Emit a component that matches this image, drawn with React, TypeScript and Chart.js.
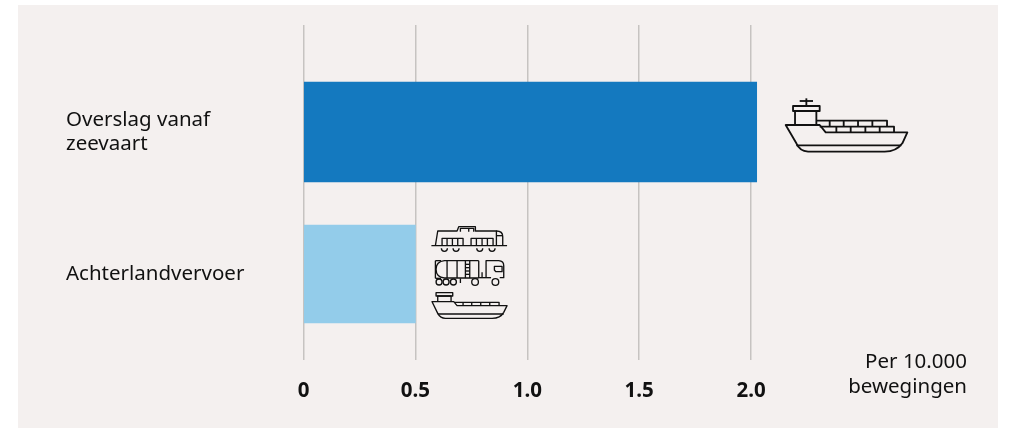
import React, { useEffect, useRef } from "react";
import { Chart, registerables } from "chart.js";

Chart.register(...registerables);

const categories: string[][] = [["Overslag vanaf", "zeevaart"], ["Achterlandvervoer"]];
const seaValues = [2.025, null];
const inlandValues = [null, 0.5];
const xTicks = [0, 0.5, 1.0, 1.5, 2.0];
const unitLines = ["Per 10.000", "bewegingen"];

const INK = "#111111";
const FONT = '"Noto Sans", sans-serif';

function poly(c: CanvasRenderingContext2D, pts: number[][], close = false) {
  c.beginPath();
  pts.forEach((p, i) => (i ? c.lineTo(p[0], p[1]) : c.moveTo(p[0], p[1])));
  if (close) c.closePath();
  c.stroke();
}
function circle(c: CanvasRenderingContext2D, x: number, y: number, r: number) {
  c.beginPath();
  c.arc(x, y, r, 0, Math.PI * 2);
  c.stroke();
}

// icon drawings: each in its own local units, thirds of a pixel
function bigShip(c: CanvasRenderingContext2D) {
  c.lineWidth = 5.5;
  c.beginPath();
  c.moveTo(48, 120);
  c.lineTo(150, 120);
  c.lineTo(168, 142);
  c.lineTo(413, 142);
  c.lineTo(398, 175);
  c.quadraticCurveTo(380, 200, 345, 200);
  c.lineTo(115, 200);
  c.quadraticCurveTo(90, 198, 80, 175);
  c.closePath();
  c.stroke();
  poly(c, [[80, 181], [395, 181]]);
  poly(c, [[76, 120], [76, 78], [140, 78], [140, 120]]);
  poly(c, [[70, 78], [70, 63], [150, 63], [150, 78]], true);
  poly(c, [[110, 40], [110, 63]]);
  poly(c, [[90, 48], [130, 48]]);
  poly(c, [[142, 107], [352, 107], [352, 125]]);
  poly(c, [[150, 125], [373, 125], [373, 142]]);
  [180, 222, 265, 308].forEach((x) => poly(c, [[x, 107], [x, 125]]));
  [200, 243, 287, 330].forEach((x) => poly(c, [[x, 125], [x, 142]]));
}
function train(c: CanvasRenderingContext2D) {
  c.lineWidth = 4;
  poly(c, [[33, 92], [260, 92]]);
  poly(c, [[45, 92], [52, 48], [110, 48], [115, 35], [165, 35], [165, 48], [230, 48]]);
  c.beginPath();
  c.moveTo(228, 48);
  c.quadraticCurveTo(247, 48, 247, 65);
  c.lineTo(247, 92);
  c.stroke();
  poly(c, [[228, 48], [228, 92]]);
  poly(c, [[228, 62], [247, 62]]);
  poly(c, [[65, 92], [65, 70], [128, 70], [128, 92]]);
  poly(c, [[152, 92], [152, 70], [218, 70], [218, 92]]);
  [80, 96, 112, 168, 185, 201].forEach((x) => poly(c, [[x, 70], [x, 92]]));
  poly(c, [[120, 50], [120, 40], [160, 40], [160, 50]]);
  poly(c, [[145, 40], [145, 50]]);
  [72, 107, 178, 215].forEach((x) => {
    c.beginPath();
    c.arc(x, 100, 9, 0, Math.PI);
    c.stroke();
  });
}
function truck(c: CanvasRenderingContext2D) {
  c.lineWidth = 4;
  c.beginPath();
  c.moveTo(175, 137);
  c.lineTo(72, 137);
  c.quadraticCurveTo(47, 140, 47, 163);
  c.quadraticCurveTo(47, 187, 72, 189);
  c.lineTo(175, 189);
  c.stroke();
  poly(c, [[45, 137], [45, 190]]);
  poly(c, [[45, 137], [62, 137]]);
  poly(c, [[45, 190], [62, 190]]);
  poly(c, [[175, 137], [175, 189]]);
  [80, 110].forEach((x) => poly(c, [[x, 137], [x, 189]]));
  poly(c, [[135, 137], [135, 189]]);
  poly(c, [[148, 137], [148, 189]]);
  [148, 158, 168, 178].forEach((y) => poly(c, [[135, y], [148, y]]));
  c.beginPath();
  c.moveTo(197, 188);
  c.lineTo(197, 137);
  c.lineTo(235, 137);
  c.quadraticCurveTo(250, 138, 250, 152);
  c.lineTo(250, 188);
  c.lineTo(238, 188);
  c.stroke();
  poly(c, [[176, 188], [212, 188]]);
  poly(c, [[222, 154], [245, 154], [245, 170], [226, 170], [222, 165]], true);
  poly(c, [[185, 172], [185, 188]]);
  poly(c, [[120, 190], [120, 204]]);
  [[56, 9], [77, 9], [99, 9], [164, 10], [225, 10]].forEach(([x, r]) => circle(c, x, 201, r));
}
function smallShip(c: CanvasRenderingContext2D) {
  c.lineWidth = 4;
  c.beginPath();
  c.moveTo(35, 260);
  c.lineTo(100, 260);
  c.lineTo(110, 272);
  c.lineTo(260, 272);
  c.lineTo(250, 292);
  c.quadraticCurveTo(240, 310, 215, 310);
  c.lineTo(75, 310);
  c.quadraticCurveTo(60, 310, 52, 295);
  c.closePath();
  c.stroke();
  poly(c, [[52, 297], [250, 297]]);
  poly(c, [[52, 260], [52, 243], [92, 243], [92, 260]]);
  poly(c, [[47, 243], [47, 233], [97, 233], [97, 243]], true);
  poly(c, [[102, 262], [236, 262], [236, 272]]);
  [128, 154, 181, 208].forEach((x) => poly(c, [[x, 262], [x, 272]]));
}

const iconPlugin = {
  id: "icons",
  afterDatasetsDraw(chart: any) {
    const c: CanvasRenderingContext2D = chart.ctx;
    const x = chart.scales.x;
    const y = chart.scales.y;
    c.save();
    c.strokeStyle = INK;
    c.lineJoin = "round";
    c.lineCap = "butt";

    const seaEnd = x.getPixelForValue(seaValues[0] as number);
    const seaMid = y.getPixelForValue(0);
    c.save();
    c.translate(seaEnd + 13, seaMid - 47);
    c.scale(1 / 3, 1 / 3);
    bigShip(c);
    c.restore();

    const inlandEnd = x.getPixelForValue(inlandValues[1] as number);
    const inlandMid = y.getPixelForValue(1);
    c.save();
    c.translate(inlandEnd + 5, inlandMid - 59);
    c.scale(1 / 3, 1 / 3);
    train(c);
    truck(c);
    smallShip(c);
    c.restore();

    // unit note, right-aligned below the plot
    c.fillStyle = INK;
    c.font = `20.5px ${FONT}`;
    c.textAlign = "right";
    c.textBaseline = "middle";
    unitLines.forEach((t, i) => c.fillText(t, chart.width - 48, 362.5 + i * 25));
    c.restore();
  },
};

export default function App() {
  const ref = useRef<HTMLCanvasElement>(null);
  useEffect(() => {
    const chart = new Chart(ref.current!, {
      type: "bar",
      plugins: [iconPlugin],
      data: {
        labels: [0, 1],
        datasets: [
          { label: "Overslag vanaf zeevaart", data: seaValues as any, backgroundColor: "#1479BF", barThickness: 100 },
          { label: "Achterlandvervoer", data: inlandValues as any, backgroundColor: "#93CCEA", barThickness: 98 },
        ],
      },
      options: {
        indexAxis: "y",
        responsive: false,
        animation: false,
        layout: { padding: { left: 66, right: 152, top: 25, bottom: 5.4 } },
        plugins: { legend: { display: false }, tooltip: { enabled: false } },
        scales: {
          x: {
            type: "linear",
            min: 0,
            max: 2.5,
            stacked: true,
            afterBuildTicks: (s: any) => {
              s.ticks = xTicks.map((value) => ({ value }));
            },
            grid: { color: "#C6C3C1", lineWidth: 1.5, drawTicks: false },
            border: { display: false },
            ticks: {
              autoSkip: false,
              maxRotation: 0,
              padding: 19,
              color: INK,
              font: { family: FONT, size: 20.5, weight: "bold" },
              callback: (v: any) => (v === 0 ? "0" : Number(v).toFixed(1)),
            },
          },
          y: {
            type: "linear",
            stacked: true,
            reverse: true,
            offset: false,
            min: -0.7535,
            max: 1.6056,
            afterBuildTicks: (s: any) => {
              s.ticks = [{ value: 0 }, { value: 1 }];
            },
            afterFit: (s: any) => {
              s.width = 303.5 - 66;
            },
            grid: { display: false, drawTicks: false, offset: false },
            border: { display: false },
            ticks: {
              autoSkip: false,
              crossAlign: "far",
              color: INK,
              font: { family: FONT, size: 20.5, lineHeight: 1.2 },
              callback: (v: any) => categories[v],
            },
          },
        },
      } as any,
    });
    return () => chart.destroy();
  }, []);
  return (
    <div style={{ position: "fixed", left: 0, top: 0, width: 1015, height: 428, background: "#fff", overflow: "hidden" }}>
      <div style={{ position: "absolute", left: 18, top: 5, width: 980, height: 423, background: "#F4F0EF" }} />
      <canvas ref={ref} width={1015} height={428} style={{ position: "absolute", left: 0, top: 0, display: "block" }} />
    </div>
  );
}
